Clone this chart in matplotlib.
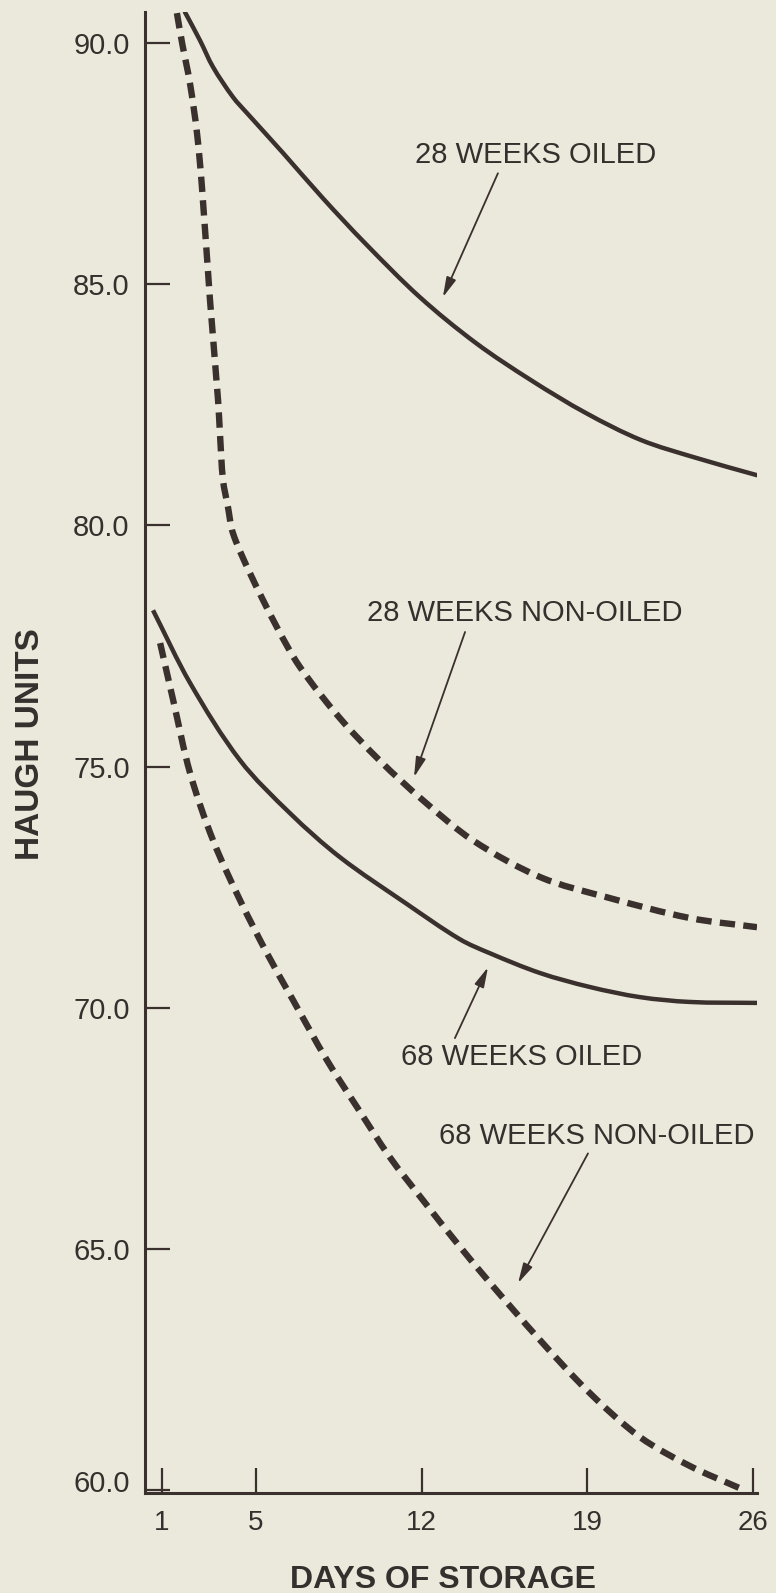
import matplotlib
matplotlib.use("Agg")
import matplotlib.pyplot as plt
import matplotlib.transforms as mtransforms
import numpy as np
from matplotlib.path import Path
from matplotlib.patches import PathPatch

# ---- data ----
days_28_oiled = [1.99, 2.62, 3.18, 4.02, 4.61, 6.14, 7.83, 9.61, 11.93, 14.30, 16.63, 18.95, 21.28, 23.61, 26.19]
hu_28_oiled = [90.64, 90.06, 89.50, 88.88, 88.55, 87.72, 86.78, 85.85, 84.73, 83.78, 83.01, 82.33, 81.77, 81.40, 81.04]

days_28_non = [1.65, 1.87, 2.20, 2.50, 2.71, 3.05, 3.39, 3.47, 3.60, 3.81, 4.02, 4.74, 5.88, 6.86, 8.55, 10.24, 12.06, 14.17, 17.01, 19.84, 23.35, 26.19]
hu_28_non = [90.62, 90.0, 89.17, 88.13, 87.01, 84.67, 82.60, 81.91, 80.94, 80.38, 79.84, 79.01, 77.89, 77.06, 76.0, 75.12, 74.30, 73.47, 72.71, 72.29, 71.86, 71.67]

days_68_oiled = [0.64, 2.21, 4.32, 6.44, 8.55, 11.38, 13.62, 14.89, 17.01, 19.12, 21.24, 23.35, 26.19]
hu_68_oiled = [78.24, 76.73, 75.13, 74.03, 73.12, 72.15, 71.42, 71.13, 70.72, 70.43, 70.22, 70.12, 70.10]

days_68_non = [0.94, 1.49, 2.21, 3.18, 4.32, 5.46, 6.56, 8.0, 9.27, 10.66, 12.06, 13.5, 14.89, 17.01, 19.12, 21.24, 23.35, 25.46]
hu_68_non = [77.56, 76.38, 74.86, 73.47, 72.23, 71.13, 70.16, 68.91, 67.94, 66.90, 66.01, 65.12, 64.30, 63.11, 62.01, 61.10, 60.50, 60.04]

x_ticks = [1, 5, 12, 19, 26]
y_ticks = [60, 65, 70, 75, 80, 85, 90]
y_tick_labels = ["60.0", "65.0", "70.0", "75.0", "80.0", "85.0", "90.0"]

labels = ["28 WEEKS OILED", "28 WEEKS NON-OILED", "68 WEEKS OILED", "68 WEEKS NON-OILED"]
label_pos = [(16.82, 87.74), (16.37, 78.24), (16.25, 69.04), (19.43, 67.40)]
arrow_tail = [(15.23, 87.30), (13.84, 77.79), (13.41, 69.37), (19.04, 66.98)]
arrow_tip = [(12.90, 84.73), (11.68, 74.78), (14.81, 70.84), (16.08, 64.29)]

# ---- style ----
BG = "#ebe9dc"
INK = "#3a302d"
TXT = "#34302d"
FONT = ["Liberation Sans", "DejaVu Sans"]
plt.rcParams["font.family"] = FONT

fig = plt.figure(figsize=(7.76, 15.93), dpi=100, facecolor=BG)
ax = fig.add_axes([145/776, 1 - 1493/1593, (757 - 145)/776, (1493 - 12)/1593])
ax.set_facecolor(BG)
ax.set_xlim(0.30, 26.19)
ax.set_ylim(59.94, 90.643)


def smooth_line(xs, ys, **kw):
    """Draw a smooth curve through the data points (Bezier segments, drawn in data space)."""
    pts = ax.transData.transform(np.column_stack([xs, ys]))
    n = len(pts)
    tang = np.zeros_like(pts)
    for i in range(n):
        a = pts[max(i - 1, 0)]
        b = pts[min(i + 1, n - 1)]
        d = b - a
        tang[i] = d / np.hypot(*d)
    verts = [pts[0]]
    codes = [Path.MOVETO]
    for i in range(n - 1):
        seg = np.hypot(*(pts[i + 1] - pts[i])) / 3.0
        verts += [pts[i] + tang[i] * seg, pts[i + 1] - tang[i + 1] * seg, pts[i + 1]]
        codes += [Path.CURVE4] * 3
    verts = ax.transData.inverted().transform(np.array(verts))
    patch = PathPatch(Path(verts, codes), fill=False, transform=ax.transData, **kw)
    ax.add_patch(patch)


smooth_line(days_28_oiled, hu_28_oiled, edgecolor=INK, lw=3.2, capstyle="round", joinstyle="round")
smooth_line(days_68_oiled, hu_68_oiled, edgecolor=INK, lw=3.2, capstyle="butt", joinstyle="round")
smooth_line(days_28_non, hu_28_non, edgecolor=INK, lw=4.6, linestyle=(0, (2.4, 1.3)), capstyle="butt")
smooth_line(days_68_non, hu_68_non, edgecolor=INK, lw=4.6, linestyle=(0, (2.4, 1.3)), capstyle="butt")

for s in ["top", "right"]:
    ax.spines[s].set_visible(False)
for s in ["left", "bottom"]:
    ax.spines[s].set_linewidth(2.2)
    ax.spines[s].set_color(INK)

ax.set_xticks(x_ticks)
ax.set_xticklabels([str(t) for t in x_ticks])
ax.set_yticks(y_ticks)
ax.set_yticklabels(y_tick_labels)
ax.tick_params(axis="both", direction="in", length=18, width=1.6, color=INK,
               labelcolor=TXT, labelsize=21)
ax.tick_params(axis="x", pad=12, labelsize=20)
ax.tick_params(axis="y", pad=11)

# the bottom "60.0" label sits a little above the axis line in the reference
lab60 = ax.get_yticklabels()[0]
lab60.set_transform(lab60.get_transform() + mtransforms.ScaledTranslation(0, 9/100, fig.dpi_scale_trans))

for lab, (tx, ty), (ax0, ay0), (bx, by) in zip(labels, label_pos, arrow_tail, arrow_tip):
    ax.text(tx, ty, lab, ha="center", va="center_baseline", fontsize=21, color=TXT)
    ax.annotate("", xy=(bx, by), xytext=(ax0, ay0),
                arrowprops=dict(arrowstyle="-|>,head_length=1.2,head_width=0.3",
                                color=INK, lw=1.3, shrinkA=0, shrinkB=0, mutation_scale=10))

fig.text(31/776, 1 - 744/1593, "HAUGH UNITS", rotation=90, ha="center", va="center",
         fontsize=24, fontweight="bold", color=TXT)
fig.text(443/776, 1 - 1588/1593, "DAYS OF STORAGE", ha="center", va="baseline",
         fontsize=23, fontweight="bold", color=TXT)

fig.savefig("out.png", dpi=100, facecolor=BG)
